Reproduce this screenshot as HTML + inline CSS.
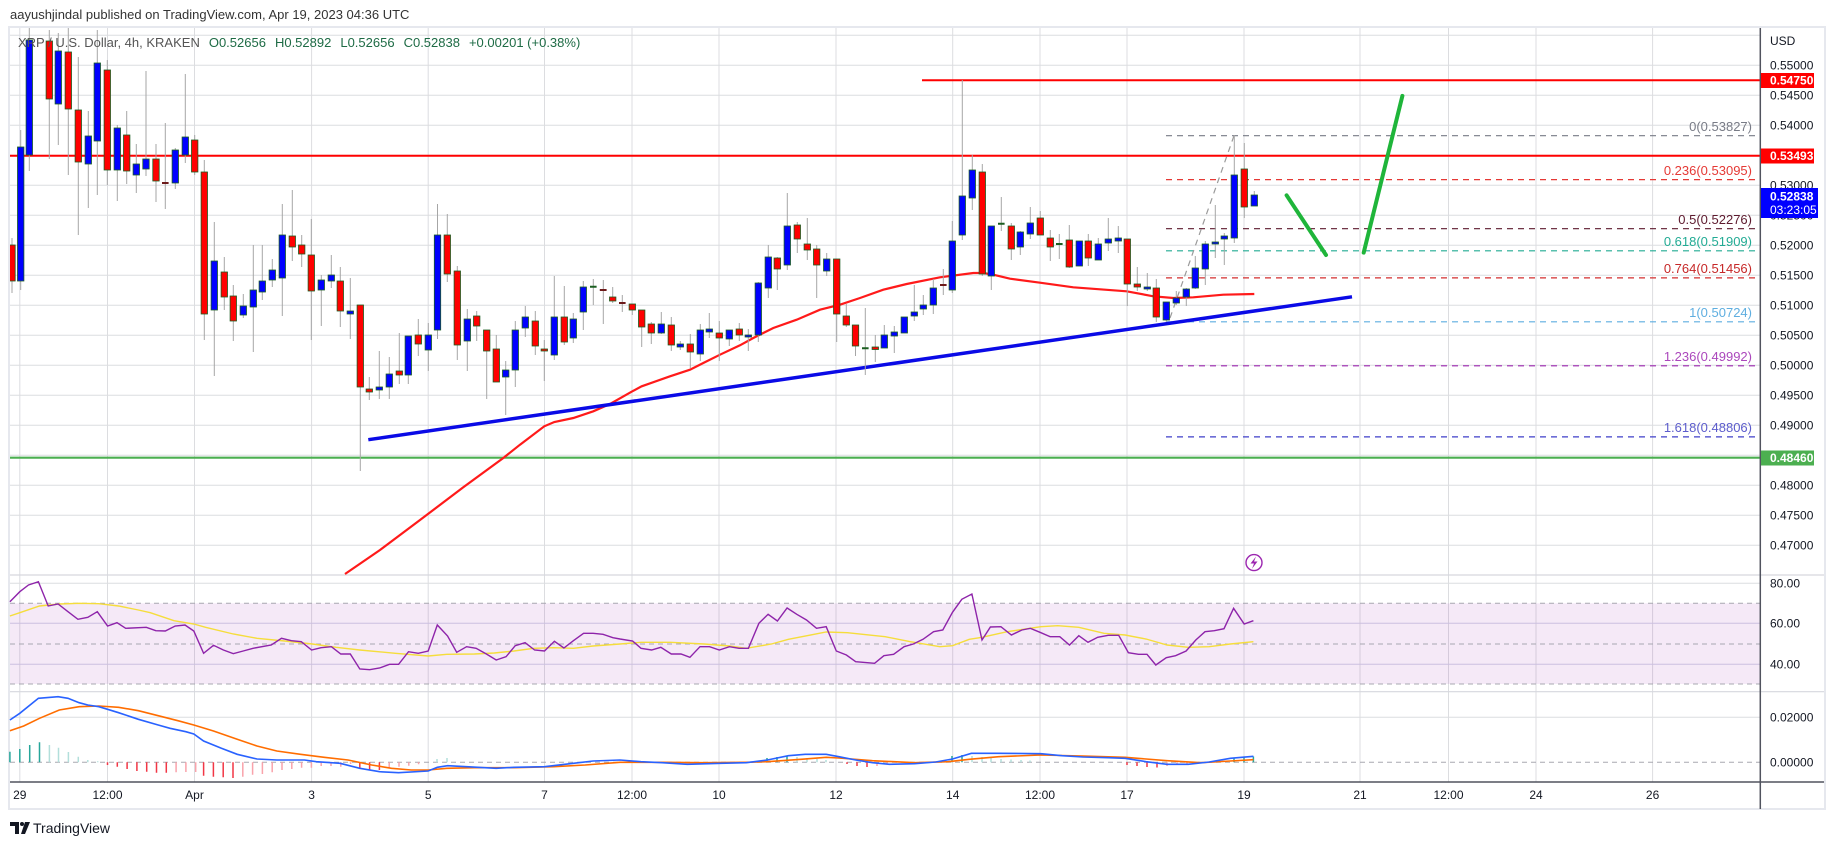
<!DOCTYPE html>
<html><head><meta charset="utf-8"><style>
html,body{margin:0;padding:0;background:#fff;}
svg{display:block;font-family:"Liberation Sans",sans-serif;}
</style></head><body>
<svg width="1834" height="845" viewBox="0 0 1834 845" xmlns="http://www.w3.org/2000/svg">
<defs><clipPath id="pc"><rect x="10" y="28" width="1750" height="547"/></clipPath></defs>
<rect x="0" y="0" width="1834" height="845" fill="#fff"/>
<text x="10" y="19" font-size="13" fill="#333">aayushjindal published on TradingView.com, Apr 19, 2023 04:36 UTC</text>
<rect x="9" y="27" width="1816" height="782" fill="none" stroke="#e6e8ee" stroke-width="2"/>
<g stroke="#dcdde0" stroke-width="1">
<path d="M10 35.3H1760M10 65.3H1760M10 95.3H1760M10 125.3H1760M10 155.3H1760M10 185.3H1760M10 215.3H1760M10 245.3H1760M10 275.3H1760M10 305.3H1760M10 335.3H1760M10 365.3H1760M10 395.3H1760M10 425.3H1760M10 455.3H1760M10 485.3H1760M10 515.3H1760M10 545.3H1760"/>
<path d="M19.8 28V782M107.5 28V782M194.5 28V782M311.6 28V782M428.2 28V782M544.5 28V782M632 28V782M719 28V782M836 28V782M952.7 28V782M1040 28V782M1127 28V782M1244 28V782M1360 28V782M1448.5 28V782M1536 28V782M1652.6 28V782"/>
<path d="M10 583.3H1760M10 717.3H1760"/>
</g>
<path d="M10 575H1824M10 691.7H1824" stroke="#d6d8de" stroke-width="1.2"/>
<rect x="10" y="603.3" width="1750" height="80.7" fill="#9c27b0" fill-opacity="0.1"/>
<path d="M10 623.3H1760M10 664.3H1760" stroke="#cbbfe0" stroke-width="1"/>
<path d="M10 603.3H1760M10 644H1760M10 684H1760M10 762.3H1760" stroke="#a8a8b0" stroke-width="1" stroke-dasharray="5,4"/>

<g clip-path="url(#pc)">
<path d="M922 80.3H1760" stroke="#ff0000" stroke-width="2"/>
<path d="M10 155.7H1760" stroke="#ff0000" stroke-width="2"/>
<path d="M10 457.7H1760" stroke="#4caf50" stroke-width="2.2"/>
<g stroke-width="1.2" stroke-dasharray="6,5">
<path d="M1166 135.7H1756" stroke="#787b86"/>
<path d="M1166 179.6H1756" stroke="#e53935"/>
<path d="M1166 228.7H1756" stroke="#5d1a2e"/>
<path d="M1166 250.8H1756" stroke="#22ab94"/>
<path d="M1166 277.9H1756" stroke="#d32f2f"/>
<path d="M1166 321.8H1756" stroke="#5eaee0"/>
<path d="M1166 365.8H1756" stroke="#9c27b0"/>
<path d="M1166 436.9H1756" stroke="#3f3fc8"/>
<path d="M1170 318L1234 135.7" stroke="#9a9a9a"/>
</g>
<g font-size="13" text-anchor="end">
<text x="1752" y="131" fill="#787b86">0(0.53827)</text>
<text x="1752" y="175" fill="#e53935">0.236(0.53095)</text>
<text x="1752" y="224" fill="#5d1a2e">0.5(0.52276)</text>
<text x="1752" y="246" fill="#22ab94">0.618(0.51909)</text>
<text x="1752" y="273" fill="#c62828">0.764(0.51456)</text>
<text x="1752" y="317" fill="#5eaee0">1(0.50724)</text>
<text x="1752" y="361" fill="#ab47bc">1.236(0.49992)</text>
<text x="1752" y="432" fill="#5c5ccc">1.618(0.48806)</text>
</g>
<polyline fill="none" stroke="#ff1a1a" stroke-width="2.2" points="345,574 380,550 420,520 463.3,487.3 503.3,458 520,444.7 544.3,426.3 554.3,422 573.3,418 593.3,411.3 610,404 632.3,391.3 641.7,386.3 670,376.3 690,369.7 703.3,363 720,354.7 740,345.3 753.3,338 773.3,328 796.7,319.7 820,309.7 840,304.7 860,298 883.3,289.7 906.7,284 940,277.3 973.3,273 983.3,273 993.3,274.7 1010,278.7 1040,282.7 1073.3,287.3 1126.7,291.3 1153.3,296.3 1173.3,298 1193.3,297.3 1223.3,294.7 1254.3,294"/>
<path d="M368.3 439.7L1352 296.8" stroke="#0a0ae6" stroke-width="3.5"/>
<path stroke="#a6a6a6" stroke-width="1" fill="none" d="M12 238V293M20.7 130V290M29.3 28V171M49.3 30V159M58.3 33V145M68.3 28V175M78.3 57V235M88.3 111V208M97.3 30V195M107.3 60V185M117.3 125V201M126.7 111V184M136.3 144V193M146 71V176M156 144V202M165.3 123V209M175.3 148V189M185.3 74V163M194.7 135V175M204.3 160V340M214.3 222V376M224.3 257V310M233.3 285V341M243.3 294V318M253.3 245V352M262.3 245V300M272.3 259V287M282.3 204V316M292.3 190V261M301.7 235V267M311.3 219V340M321.3 275V326M331.3 255V288M340.3 267V327M350.3 278V339M360.3 305V471M369.3 377V400M379.3 351V399M389.3 357V399M399.3 333V384M408.3 336V384M418.3 319V356M428.3 323V371M437.5 204V339M447.3 214V282M457.3 266V360M467.3 309V371M476.7 311V341M486.7 330V399M496.3 335V382M505.7 361V415M515.3 321V387M525.3 306V337M535.3 311V355M544.3 340V381M554.3 276V360M564.3 286V345M573.3 313V343M583.3 281V330M593.3 279V305M603.3 280V324M612.7 287V303M622.3 295V312M632.3 304V315M641.7 310V347M651.3 322V344M661.3 312V334M671.3 317V351M680.3 341V350M690.3 334V368M700.3 324V361M709.3 313V338M719.3 321V361M729.3 330V346M739.3 323V341M748.3 329V351M758.3 282V342M768.3 245V298M777.3 257V290M787.3 193V270M797.3 222V253M807.3 218V260M816.7 245V298M826.7 253V276M836.7 259V342M846.3 304V327M855.5 325V356M865.3 308V375M875.3 335V362M884.3 325V348M894.3 326V353M904.3 317V333M914.3 285V321M923.3 295V315M933.3 279V314M943.3 269V295M952.3 221V293M962.3 80V240M972.3 155V210M982.3 164V276M991.3 226V290M1001.3 197V231M1011.3 223V260M1020.3 231V255M1030.3 207V239M1040.3 211V235M1050.3 230V261M1059.3 234V259M1069.3 225V268M1079.3 241V266M1088.3 234V266M1098.3 238V260M1108.3 218V251M1118.3 226V253M1127.3 239V306M1137.3 267V291M1147.3 273V291M1156.3 279V322M1166.3 302V322M1176.3 291V305M1186.3 288V306M1195.3 256V289M1205.3 241V285M1215.3 205V258M1224.3 233V265M1234.3 135V243M1244.3 143V218M1254.3 191V206"/>
<g fill="#0000ff" stroke="#1b5e20" stroke-width="0.8">
<rect x="17.5" y="147" width="6.4" height="134"/><rect x="26.1" y="40" width="6.4" height="115"/><rect x="55.1" y="51" width="6.4" height="53"/><rect x="85.1" y="136" width="6.4" height="28"/><rect x="94.1" y="63" width="6.4" height="78"/><rect x="114.1" y="128" width="6.4" height="42"/><rect x="133.1" y="164" width="6.4" height="11"/><rect x="142.8" y="159" width="6.4" height="10"/><rect x="172.1" y="150" width="6.4" height="33"/><rect x="182.1" y="137" width="6.4" height="18"/><rect x="211.1" y="261" width="6.4" height="49"/><rect x="240.1" y="306" width="6.4" height="9"/><rect x="250.1" y="290" width="6.4" height="17"/><rect x="259.1" y="281" width="6.4" height="11"/><rect x="269.1" y="270" width="6.4" height="10"/><rect x="279.1" y="235" width="6.4" height="43"/><rect x="318.1" y="280" width="6.4" height="10"/><rect x="328.1" y="275" width="6.4" height="6"/><rect x="347.1" y="311" width="6.4" height="3"/><rect x="376.1" y="387" width="6.4" height="3"/><rect x="386.1" y="374" width="6.4" height="13"/><rect x="405.1" y="336" width="6.4" height="39"/><rect x="425.1" y="335" width="6.4" height="15"/><rect x="434.3" y="235" width="6.4" height="95"/><rect x="464.1" y="319" width="6.4" height="22"/><rect x="502.5" y="370" width="6.4" height="7"/><rect x="512.1" y="330" width="6.4" height="40"/><rect x="522.1" y="317" width="6.4" height="11"/><rect x="551.1" y="317" width="6.4" height="38"/><rect x="570.1" y="319" width="6.4" height="19"/><rect x="580.1" y="287" width="6.4" height="25"/><rect x="658.1" y="324" width="6.4" height="9"/><rect x="677.1" y="344" width="6.4" height="3"/><rect x="697.1" y="330" width="6.4" height="24"/><rect x="706.1" y="329" width="6.4" height="3"/><rect x="726.1" y="330" width="6.4" height="9"/><rect x="745.1" y="335" width="6.4" height="2"/><rect x="755.1" y="283" width="6.4" height="52"/><rect x="765.1" y="257" width="6.4" height="31"/><rect x="784.1" y="226" width="6.4" height="39"/><rect x="823.5" y="259" width="6.4" height="12"/><rect x="881.1" y="335" width="6.4" height="13"/><rect x="891.1" y="332" width="6.4" height="4"/><rect x="901.1" y="317" width="6.4" height="16"/><rect x="911.1" y="312" width="6.4" height="4"/><rect x="920.1" y="305" width="6.4" height="4"/><rect x="930.1" y="288" width="6.4" height="17"/><rect x="949.1" y="241" width="6.4" height="49"/><rect x="959.1" y="196" width="6.4" height="39"/><rect x="969.1" y="170" width="6.4" height="28"/><rect x="988.1" y="226" width="6.4" height="50"/><rect x="1017.1" y="232" width="6.4" height="15"/><rect x="1027.1" y="223" width="6.4" height="11"/><rect x="1076.1" y="241" width="6.4" height="25"/><rect x="1095.1" y="244" width="6.4" height="16"/><rect x="1105.1" y="239" width="6.4" height="4"/><rect x="1115.1" y="238" width="6.4" height="3"/><rect x="1144.1" y="287" width="6.4" height="2"/><rect x="1163.1" y="302" width="6.4" height="18"/><rect x="1173.1" y="298" width="6.4" height="5"/><rect x="1183.1" y="289" width="6.4" height="8"/><rect x="1192.1" y="268" width="6.4" height="20"/><rect x="1202.1" y="244" width="6.4" height="25"/><rect x="1212.1" y="242" width="6.4" height="2"/><rect x="1221.1" y="236" width="6.4" height="3"/><rect x="1231.1" y="175" width="6.4" height="63"/><rect x="1251.1" y="195" width="6.4" height="11"/>
</g>
<g fill="#ff0000" stroke="#1b5e20" stroke-width="0.8">
<rect x="8.8" y="245" width="6.4" height="36"/><rect x="46.1" y="41" width="6.4" height="58"/><rect x="65.1" y="52" width="6.4" height="57"/><rect x="75.1" y="110" width="6.4" height="52"/><rect x="104.1" y="70" width="6.4" height="100"/><rect x="123.5" y="135" width="6.4" height="36"/><rect x="152.8" y="159" width="6.4" height="22"/><rect x="191.5" y="140" width="6.4" height="32"/><rect x="201.1" y="172" width="6.4" height="142"/><rect x="221.1" y="272" width="6.4" height="25"/><rect x="230.1" y="296" width="6.4" height="25"/><rect x="289.1" y="236" width="6.4" height="11"/><rect x="298.5" y="245" width="6.4" height="9"/><rect x="308.1" y="255" width="6.4" height="36"/><rect x="337.1" y="281" width="6.4" height="30"/><rect x="357.1" y="305" width="6.4" height="82"/><rect x="366.1" y="389" width="6.4" height="3"/><rect x="396.1" y="371" width="6.4" height="4"/><rect x="415.1" y="335" width="6.4" height="9"/><rect x="444.1" y="235" width="6.4" height="39"/><rect x="454.1" y="271" width="6.4" height="74"/><rect x="473.5" y="316" width="6.4" height="10"/><rect x="483.5" y="330" width="6.4" height="21"/><rect x="493.1" y="349" width="6.4" height="33"/><rect x="532.1" y="321" width="6.4" height="25"/><rect x="541.1" y="349" width="6.4" height="2"/><rect x="561.1" y="317" width="6.4" height="25"/><rect x="609.5" y="297" width="6.4" height="4"/><rect x="629.1" y="304" width="6.4" height="6"/><rect x="638.5" y="310" width="6.4" height="17"/><rect x="648.1" y="324" width="6.4" height="9"/><rect x="668.1" y="325" width="6.4" height="20"/><rect x="687.1" y="344" width="6.4" height="8"/><rect x="716.1" y="333" width="6.4" height="5"/><rect x="736.1" y="329" width="6.4" height="6"/><rect x="774.1" y="258" width="6.4" height="11"/><rect x="794.1" y="225" width="6.4" height="14"/><rect x="804.1" y="244" width="6.4" height="6"/><rect x="813.5" y="249" width="6.4" height="16"/><rect x="833.5" y="259" width="6.4" height="55"/><rect x="843.1" y="316" width="6.4" height="9"/><rect x="852.3" y="325" width="6.4" height="21"/><rect x="872.1" y="347" width="6.4" height="2.5"/><rect x="979.1" y="172" width="6.4" height="102"/><rect x="1008.1" y="226" width="6.4" height="23"/><rect x="1037.1" y="218" width="6.4" height="17"/><rect x="1047.1" y="238" width="6.4" height="9"/><rect x="1066.1" y="240" width="6.4" height="27"/><rect x="1085.1" y="241" width="6.4" height="17"/><rect x="1124.1" y="239" width="6.4" height="45"/><rect x="1134.1" y="284" width="6.4" height="3"/><rect x="1153.1" y="288" width="6.4" height="29"/><rect x="1241.1" y="169" width="6.4" height="38"/>
</g>
<g stroke-width="2">
<path d="M162 183H168.6M599.8 290H606.6M619 303H625.6M940 285H946.6" stroke="#6d1a1a"/>
<path d="M590 286.7H596.6M862 348.3H868.6M998 223.7H1004.6M1056 244H1062.6" stroke="#1b5e20"/>
</g>
<path d="M1286.6 195.3L1326 255M1363.7 252.6L1402.4 95.9" stroke="#1fb53a" stroke-width="4" stroke-linecap="round"/>
</g>
<text x="18" y="47" font-size="13" fill="#555"><tspan>XRP / U.S. Dollar, 4h, KRAKEN</tspan><tspan fill="#1e6b45" dx="9">O0.52656</tspan><tspan fill="#1e6b45" dx="9">H0.52892</tspan><tspan fill="#1e6b45" dx="9">L0.52656</tspan><tspan fill="#1e6b45" dx="9">C0.52838</tspan><tspan fill="#1e6b45" dx="9">+0.00201 (+0.38%)</tspan></text>
<circle cx="1254" cy="562.6" r="8" fill="#fff" stroke="#9c27b0" stroke-width="1.4"/>
<path d="M1256 556.5L1250.5 563.5H1254L1252 568.8L1257.5 561.5H1254Z" fill="#9c27b0"/>

<polyline fill="none" stroke="#f5dd3c" stroke-width="1.4" points="9.9,616 19.8,612.7 39.5,606 59.3,604 79.1,603.3 98.9,603.7 118.6,606 138.4,610 150.3,612.7 174,620.7 193.8,624 205.6,627.3 233.3,634 257,638.3 284.7,641 312.4,644 336.1,647.3 359.8,650 395.4,653.3 428.2,656 446.8,654.3 474.5,654 494.3,653 514,651 533.8,648.3 553.6,647.7 573.4,648.3 593.1,646 620,644 641,642.3 670.5,642.3 704.2,644 729.4,646 746.3,648.3 771.5,644 788.4,639.3 826.2,632 847.3,632.7 885.2,636.7 910.4,641.7 939.9,646.7 952.5,645.7 969.3,639.3 982,637.3 1007.2,631.7 1040.9,626.7 1057.7,625.7 1078.8,627.3 1104,633.3 1125.1,635 1146.1,639 1167.1,645 1188.2,647.3 1209.2,646.7 1230.3,644 1253.4,641.7"/>
<polyline fill="none" stroke="#8e24aa" stroke-width="1.4" points="9.9,601.7 19.8,591.7 28.5,585 38.4,581.7 48.2,606 58.1,604 68,611.7 77.9,619.3 87.8,617.3 97.3,611.7 107.6,626 117,622.7 125.7,628.3 146.3,627.3 155.8,630.7 165.3,631 175.2,626 185,625 193.8,631 203.6,653.3 213.5,645.3 223.4,650 233.3,653.7 243.2,651 253.1,648.3 271.3,645 281.5,638.3 291.4,640.7 301.3,641.7 311.6,650 321.1,647.7 331.4,646.7 340.8,654 350.3,654 359.8,669 369.7,669.7 379.6,668 389.5,664.3 398.6,664.3 408.5,651.7 418.3,653.3 428.2,651 437.3,625 447.6,636 456.7,652.3 466.6,646.7 476.1,648.3 486.4,654 496.2,660 506.1,656.7 515.2,645.7 525.1,642.7 534.6,650 544.5,651 554.4,641.3 563.9,648 573.4,640.7 583.6,633.3 593.1,633.3 603,634.3 612.9,637.7 620,639 632.6,641 641,648.3 651.6,650 660.8,647.3 671.3,654 681,654 689.9,657.3 700,646.7 709.6,646.7 719.3,650 729.4,646.7 739.1,648.3 748.4,648.3 758.9,623.3 768.1,614.3 777.4,621 787.1,608 796.8,614.3 806.5,620 816.5,628.3 826.2,626.7 836.3,651 846.4,655 855.7,661.7 874.6,663.3 883.9,655.7 893.6,654.3 904.1,646.7 913.3,644 923,639.3 933.6,631.7 942.8,630 952.5,612.3 961.8,599.3 971.9,594 982,640 990.4,627 1000.9,626.7 1011.4,635 1021.9,630 1030.4,628.3 1040.9,632.7 1050.1,636.7 1059.8,636.7 1069.5,645 1078.8,635.7 1088,642.3 1097.7,637.3 1108.2,635.3 1118.7,635.3 1128.4,652.7 1138.5,654.3 1147,654.3 1155.8,665 1166.3,657.7 1175.6,655.7 1186.1,651 1195.8,640 1205,631.7 1214.3,630.7 1224,628.7 1233.6,608.3 1244.2,624 1253.4,620.7"/>

<g stroke-width="1.5">
<path stroke="#26a69a" d="M9.9 762.3V751.7M19.8 762.3V749M29.7 762.3V745M39.5 762.3V742.3M767 762.3V758M777 762.3V757M787 762.3V756M952 762.3V756M962 762.3V755M1234 762.3V758M1244 762.3V757M1253.4 762.3V756.5"/>
<path stroke="#b2dfdb" d="M49.4 762.3V745M58.5 762.3V747.7M68.4 762.3V752M78.3 762.3V756.7M87.8 762.3V760M97.7 762.3V761.3M797 762.3V757M807 762.3V758M817 762.3V759M826 762.3V760M972 762.3V756M982 762.3V757M991 762.3V758M1001 762.3V759M1011 762.3V759.5M1021 762.3V760M1030 762.3V760.5M437 762.3V759M447 762.3V758"/>
<path stroke="#f23645" d="M107.5 762.3V765M117.3 762.3V766.7M127.1 762.3V769M136.9 762.3V771M146.7 762.3V771.7M156.5 762.3V772.7M166.3 762.3V772.7M203.6 762.3V775.7M213.4 762.3V776.7M223.2 762.3V777.3M233 762.3V778M359.8 762.3V769M369.6 762.3V770M379.4 762.3V770M847 762.3V764M857 762.3V766M867 762.3V767M1127 762.3V765M1137 762.3V766M1147 762.3V767M1157 762.3V767.5"/>
<path stroke="#f9a3ab" d="M176.1 762.3V772.3M185.9 762.3V772M195.7 762.3V772M242.8 762.3V776.7M252.6 762.3V774.7M262.4 762.3V774M272.2 762.3V772.3M282 762.3V770M291.8 762.3V769M301.6 762.3V767.7M311.4 762.3V767.7M321.2 762.3V766M331 762.3V766M340.8 762.3V766.7M350.6 762.3V764M389.2 762.3V768.3M399 762.3V766.7M408.8 762.3V765.7M418.6 762.3V764.3M877 762.3V766M887 762.3V764M1167 762.3V766M1177 762.3V764.5M1187 762.3V763.5"/>
</g>
<polyline fill="none" stroke="#ff6d00" stroke-width="1.6" points="9.9,730.7 23.7,726 39.5,718.3 59.3,710 79.1,706.7 98.9,706 118.6,707.3 138.4,710.7 158.2,715.7 177.9,720.7 193.8,725 213.5,731 237.2,739.3 257,746 276.8,751 300.5,754.3 324.2,757.3 348,760 371.7,765 391.5,768.3 411.2,770 428.2,770 446.8,768.3 474.5,767.7 514,767.7 553.6,766.7 585.2,765 620,762.3 662.1,762.3 704.2,762.7 746.3,762.3 767.3,761.7 801,759.3 826.2,757.3 838.9,758 872.5,760.7 914.6,762.7 948.3,761.7 969.3,759.3 998.8,756.7 1040.9,755 1083,756 1125.1,757.3 1167.1,760.7 1200.8,762.7 1230.3,761 1253.4,759.7"/>
<polyline fill="none" stroke="#2962ff" stroke-width="1.6" points="9.9,720 19.8,713.3 38.4,698.3 58.1,696.7 68,698.3 79.1,702.7 87.8,705 98.9,706.7 107.6,709.3 118.6,712.7 138.4,719.3 158.2,725 170,728.3 185.8,731.7 193.8,734 203.6,741 221.4,748.3 237.2,754.3 257,759 276.8,760 304.5,760 316.3,761.7 340.1,763.3 359.8,768.3 379.6,771.7 398.6,772.7 428.2,771 437.3,767.3 447.6,765.7 466.6,766.7 496.2,768.3 514,767.3 544.5,766.7 573.4,763.3 593.1,761 620,760 641,761.7 662.1,762.7 687.3,764.3 721,763.3 746.3,762.7 767.3,760 788.4,755.7 805.2,754.3 826.2,754.3 838.9,756.7 855.7,760 872.5,762.7 889.4,764.3 914.6,763.7 935.7,762 952.5,759 971.4,753.3 998.8,753.3 1040.9,753.7 1061.9,755.7 1083,757 1108.2,757.7 1125.1,758.3 1146.1,761.7 1167.1,764.3 1188.2,764.3 1209.2,762 1230.3,758.3 1253.4,756.3"/>

<path d="M10 782H1824" stroke="#50535e" stroke-width="1.5"/>
<path d="M1760.3 28V809" stroke="#50535e" stroke-width="1.5"/>
<g font-size="12" fill="#131722">
<text x="1770" y="45">USD</text>
<text x="1770" y="69.5">0.55000</text>
<text x="1770" y="99.5">0.54500</text>
<text x="1770" y="129.5">0.54000</text>
<text x="1770" y="189.5">0.53000</text>
<text x="1770" y="219.5">0.52500</text>
<text x="1770" y="249.5">0.52000</text>
<text x="1770" y="279.5">0.51500</text>
<text x="1770" y="309.5">0.51000</text>
<text x="1770" y="339.5">0.50500</text>
<text x="1770" y="369.5">0.50000</text>
<text x="1770" y="399.5">0.49500</text>
<text x="1770" y="429.5">0.49000</text>
<text x="1770" y="489.5">0.48000</text>
<text x="1770" y="519.5">0.47500</text>
<text x="1770" y="549.5">0.47000</text>
<text x="1770" y="587.5">80.00</text>
<text x="1770" y="627.5">60.00</text>
<text x="1770" y="668.5">40.00</text>
<text x="1770" y="721.5">0.02000</text>
<text x="1770" y="766.5">0.00000</text>
</g>
<rect x="1761" y="73" width="53" height="15" fill="#ff0000"/>
<text x="1770" y="84.5" font-size="12" font-weight="bold" fill="#fff">0.54750</text>
<rect x="1761" y="148.5" width="53" height="15" fill="#ff0000"/>
<text x="1770" y="160" font-size="12" font-weight="bold" fill="#fff">0.53493</text>
<rect x="1761" y="188" width="57" height="30" fill="#0000ff"/>
<text x="1770" y="200.5" font-size="12" font-weight="bold" fill="#fff">0.52838</text>
<text x="1770" y="214" font-size="12" fill="#fff">03:23:05</text>
<rect x="1761" y="450.5" width="53" height="15" fill="#4caf50"/>
<text x="1770" y="462" font-size="12" font-weight="bold" fill="#fff">0.48460</text>
<g font-size="12" fill="#131722" text-anchor="middle">
<text x="19.8" y="799">29</text><text x="107.5" y="799">12:00</text><text x="194.5" y="799">Apr</text><text x="311.6" y="799">3</text><text x="428.2" y="799">5</text><text x="544.5" y="799">7</text><text x="632" y="799">12:00</text><text x="719" y="799">10</text><text x="836" y="799">12</text><text x="952.7" y="799">14</text><text x="1040" y="799">12:00</text><text x="1127" y="799">17</text><text x="1244" y="799">19</text><text x="1360" y="799">21</text><text x="1448.5" y="799">12:00</text><text x="1536" y="799">24</text><text x="1652.6" y="799">26</text>
</g>
<g fill="#131722">
<path d="M10 822H19V834H15V826H10Z"/><circle cx="22" cy="824" r="2"/><path d="M25 822H30L25 834H21Z"/>
</g>
<text x="33" y="833" font-size="14" fill="#131722">TradingView</text>
</svg>
</body></html>
